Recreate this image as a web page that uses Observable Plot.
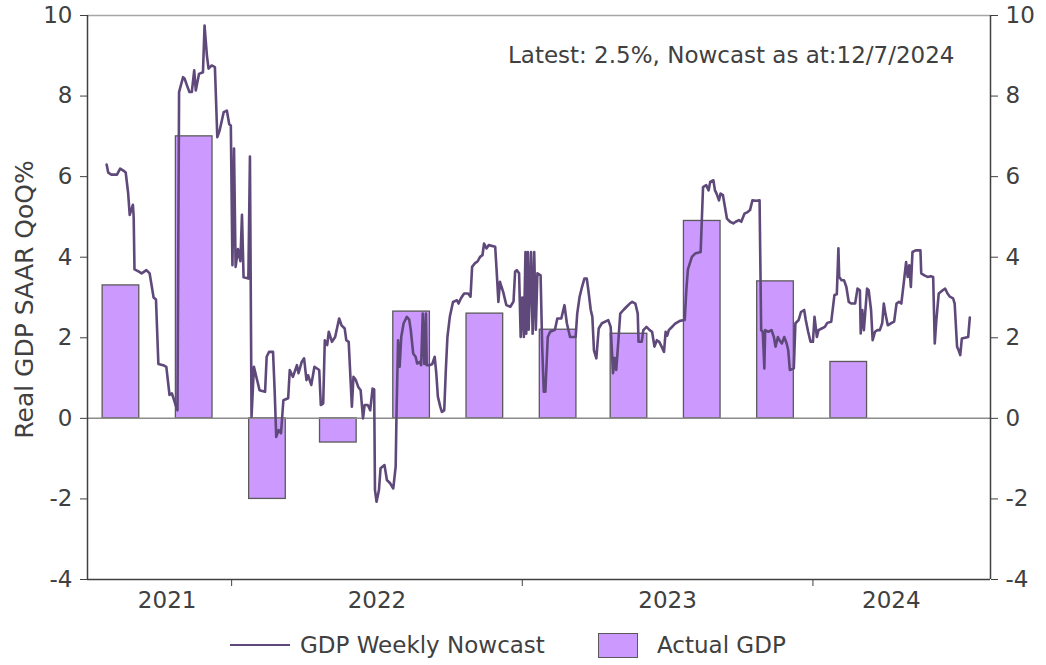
<!DOCTYPE html>
<html>
<head>
<meta charset="utf-8">
<script src="https://cdn.jsdelivr.net/npm/d3@7"></script>
<script src="https://cdn.jsdelivr.net/npm/@observablehq/plot@0.6"></script>
<style>
  html, body { margin: 0; padding: 0; background: #fff; }
  #chart { width: 1046px; font-family: "DejaVu Sans", sans-serif; color: #404040; }
  .legend { position: relative; height: 40px; font-size: 23px; }
  .legend > * { position: absolute; }
  .legend .swatch-line { left: 230px; top: 19px; width: 60px; height: 0; border-top: 2.6px solid #5F497A; }
  .legend .swatch-box { left: 598px; top: 8px; width: 40px; height: 25px; background: #CC99FF; border: 1.2px solid #595959; box-sizing: border-box; }
  .legend .label { top: 5px; line-height: 30px; white-space: nowrap; }
</style>
</head>
<body>
<div id="chart"></div>
<script>
// Quarterly actual real GDP growth (SAAR, QoQ %)
const quarters = ["2021-Q3", "2021-Q4", "2022-Q1", "2022-Q2", "2022-Q3", "2022-Q4",
                  "2023-Q1", "2023-Q2", "2023-Q3", "2023-Q4", "2024-Q1"];
const actualGdp = [3.3, 7.0, -2.0, -0.6, 2.65, 2.6, 2.2, 2.1, 4.9, 3.4, 1.4];

// Weekly GDP nowcast (SAAR, QoQ %)
const nowcastDates = [
  "2021-07-28","2021-07-30","2021-08-03","2021-08-10","2021-08-14","2021-08-18","2021-08-21","2021-08-24","2021-08-26","2021-08-30",
  "2021-08-31","2021-09-01","2021-09-06","2021-09-10","2021-09-16","2021-09-20","2021-09-25","2021-09-28","2021-10-01","2021-10-07",
  "2021-10-11","2021-10-15","2021-10-18","2021-10-22","2021-10-25","2021-10-27","2021-11-01","2021-11-03","2021-11-06","2021-11-09",
  "2021-11-12","2021-11-15","2021-11-17","2021-11-21","2021-11-26","2021-11-28","2021-12-01","2021-12-03","2021-12-07","2021-12-11",
  "2021-12-14","2021-12-17","2021-12-22","2021-12-26","2021-12-29","2021-12-31","2022-01-02","2022-01-04","2022-01-06","2022-01-09",
  "2022-01-12","2022-01-14","2022-01-16","2022-01-22","2022-01-24","2022-01-26","2022-01-29","2022-02-01","2022-02-03","2022-02-05",
  "2022-02-12","2022-02-14","2022-02-17","2022-02-22","2022-02-24","2022-02-26","2022-03-01","2022-03-04","2022-03-07","2022-03-13",
  "2022-03-15","2022-03-19","2022-03-24","2022-03-26","2022-03-30","2022-04-02","2022-04-05","2022-04-07","2022-04-11","2022-04-15",
  "2022-04-21","2022-04-23","2022-04-26","2022-04-28","2022-05-01","2022-05-03","2022-05-07","2022-05-11","2022-05-16","2022-05-19",
  "2022-05-23","2022-05-25","2022-05-28","2022-06-01","2022-06-03","2022-06-06","2022-06-09","2022-06-12","2022-06-15","2022-06-17",
  "2022-06-21","2022-06-24","2022-06-27","2022-06-29","2022-06-30","2022-07-02","2022-07-05","2022-07-07","2022-07-12","2022-07-15",
  "2022-07-19","2022-07-23","2022-07-26","2022-07-27","2022-07-29","2022-07-31","2022-08-02","2022-08-05","2022-08-09","2022-08-12",
  "2022-08-14","2022-08-17","2022-08-20","2022-08-22","2022-08-25","2022-08-27","2022-08-29","2022-08-31","2022-09-02","2022-09-03",
  "2022-09-07","2022-09-10","2022-09-13","2022-09-15","2022-09-17","2022-09-20","2022-09-22","2022-09-25","2022-09-27","2022-09-29",
  "2022-10-02","2022-10-06","2022-10-11","2022-10-13","2022-10-16","2022-10-20","2022-10-25","2022-10-28","2022-10-30","2022-11-02",
  "2022-11-06","2022-11-09","2022-11-12","2022-11-14","2022-11-17","2022-11-20","2022-11-28","2022-11-30","2022-12-02","2022-12-04",
  "2022-12-06","2022-12-08","2022-12-12","2022-12-17","2022-12-21","2022-12-23","2022-12-25","2022-12-28","2022-12-30","2023-01-01",
  "2023-01-03","2023-01-05","2023-01-06","2023-01-08","2023-01-09","2023-01-12","2023-01-14","2023-01-16","2023-01-18","2023-01-20",
  "2023-01-24","2023-01-26","2023-01-28","2023-01-30","2023-02-02","2023-02-05","2023-02-11","2023-02-14","2023-02-19","2023-02-23",
  "2023-02-26","2023-03-02","2023-03-09","2023-03-11","2023-03-14","2023-03-17","2023-03-20","2023-03-23","2023-03-25","2023-03-28",
  "2023-03-30","2023-04-01","2023-04-04","2023-04-07","2023-04-11","2023-04-19","2023-04-22","2023-04-25","2023-04-27","2023-04-29",
  "2023-05-02","2023-05-04","2023-05-08","2023-05-12","2023-05-16","2023-05-19","2023-05-23","2023-05-26","2023-05-27","2023-05-31",
  "2023-06-02","2023-06-06","2023-06-10","2023-06-13","2023-06-16","2023-06-19","2023-06-22","2023-06-25","2023-06-28","2023-06-30",
  "2023-07-02","2023-07-04","2023-07-07","2023-07-12","2023-07-18","2023-07-24","2023-07-26","2023-07-28","2023-08-02","2023-08-06",
  "2023-08-13","2023-08-16","2023-08-20","2023-08-23","2023-08-25","2023-08-29","2023-08-31","2023-09-02","2023-09-05","2023-09-07",
  "2023-09-10","2023-09-15","2023-09-19","2023-09-23","2023-09-26","2023-09-30","2023-10-03","2023-10-07","2023-10-11","2023-10-14",
  "2023-10-17","2023-10-22","2023-10-26","2023-10-28","2023-10-30","2023-11-01","2023-11-02","2023-11-06","2023-11-10","2023-11-13",
  "2023-11-15","2023-11-18","2023-11-20","2023-11-23","2023-11-26","2023-11-29","2023-12-01","2023-12-03","2023-12-08","2023-12-10",
  "2023-12-14","2023-12-17","2023-12-21","2023-12-23","2023-12-26","2023-12-29","2024-01-01","2024-01-03","2024-01-06","2024-01-08",
  "2024-01-12","2024-01-16","2024-01-19","2024-01-24","2024-01-28","2024-01-31","2024-02-02","2024-02-03","2024-02-06","2024-02-09",
  "2024-02-12","2024-02-15","2024-02-18","2024-02-23","2024-02-26","2024-02-29","2024-03-01","2024-03-03","2024-03-05","2024-03-09",
  "2024-03-11","2024-03-14","2024-03-16","2024-03-19","2024-03-22","2024-03-25","2024-03-28","2024-03-30","2024-04-01","2024-04-04",
  "2024-04-08","2024-04-12","2024-04-15","2024-04-18","2024-04-21","2024-04-24","2024-04-27","2024-04-29","2024-05-01","2024-05-03",
  "2024-05-05","2024-05-09","2024-05-15","2024-05-16","2024-05-20","2024-05-24","2024-05-28","2024-05-31","2024-06-02","2024-06-04",
  "2024-06-07","2024-06-12","2024-06-15","2024-06-18","2024-06-21","2024-06-25","2024-06-27","2024-06-30","2024-07-02","2024-07-04",
  "2024-07-06","2024-07-10","2024-07-14","2024-07-16"
];
const nowcastValues = [
  6.3, 6.1, 6.05, 6.05, 6.2, 6.15, 6.1, 5.6, 5.05, 5.3,
  5.0, 3.7, 3.65, 3.6, 3.68, 3.6, 3.0, 2.95, 1.35, 1.32,
  1.28, 0.58, 0.62, 0.37, 0.2, 8.1, 8.47, 8.43, 8.26, 8.1,
  8.1, 8.64, 8.14, 8.55, 8.59, 9.75, 9.0, 8.68, 8.76, 8.72,
  6.98, 7.15, 7.6, 7.64, 7.3, 7.27, 3.8, 6.7, 3.76, 4.2,
  3.9, 5.05, 3.5, 3.47, 6.5, 0.04, 1.28, 1.03, 0.87, 0.7,
  0.66, 1.53, 1.65, 1.65, 0.7, -0.46, -0.29, -0.37, 0.45, 0.5,
  1.2, 1.03, 1.32, 1.12, 1.4, 1.49, 0.95, 1.07, 0.83, 1.28,
  1.2, 0.33, 0.37, 1.94, 1.82, 2.15, 1.9, 2.02, 2.48, 2.31,
  2.23, 1.94, 1.9, 0.29, 1.03, 0.95, 0.78, 0.7, 0.0, 0.33,
  0.33, 0.2, 0.74, 0.72, -1.78, -2.07, -1.78, -1.24, -1.16, -1.53,
  -1.61, -1.74, -1.2, 0.04, 1.94, 1.28, 2.02, 2.36, 2.52, 2.45,
  2.19, 1.61, 1.53, 1.36, 1.4, 1.32, 2.6, 1.35, 2.6, 1.32,
  1.32, 1.35, 1.53, 1.12, 0.54, 0.29, 0.16, 0.2, 1.2, 2.02,
  2.52, 2.89, 2.93, 2.85, 2.98, 3.1, 3.1, 3.02, 3.76, 3.84,
  3.9, 4.01, 4.05, 4.34, 4.22, 4.3, 4.26, 3.6, 2.89, 3.39,
  3.26, 3.14, 2.81, 2.77, 2.9, 3.64, 3.68, 3.6, 2.02, 3.0,
  2.02, 4.13, 2.1, 4.13, 2.2, 4.13, 2.1, 4.13, 2.2, 3.6,
  3.55, 1.78, 0.66, 0.66, 2.02, 2.15, 2.2, 2.48, 2.48, 2.81,
  2.36, 2.02, 2.02, 2.6, 3.02, 3.26, 3.47, 3.47, 3.18, 2.69,
  2.52, 1.69, 1.49, 2.23, 2.36, 2.44, 2.27, 1.12, 1.5, 1.2,
  2.02, 2.6, 2.69, 2.77, 2.85, 2.89, 2.85, 2.6, 1.9, 1.9,
  2.19, 2.27, 2.19, 2.15, 1.78, 1.94, 1.9, 1.78, 1.65, 2.15,
  2.05, 2.19, 2.25, 2.35, 2.42, 2.44, 3.18, 3.7, 4.01, 4.09,
  4.13, 5.74, 5.79, 5.66, 5.87, 5.91, 5.66, 5.58, 5.41, 5.58,
  5.54, 4.96, 4.88, 4.84, 4.88, 4.92, 4.88, 5.08, 5.12, 5.17,
  5.41, 5.4, 5.41, 2.19, 2.15, 1.24, 2.19, 2.15, 2.19, 2.02,
  1.78, 2.02, 1.94, 1.86, 2.02, 1.86, 1.69, 1.2, 1.24, 2.36,
  2.44, 2.64, 2.69, 2.44, 2.15, 1.9, 1.9, 2.52, 2.02, 2.19,
  2.23, 2.27, 2.37, 2.4, 3.06, 3.08, 4.22, 3.51, 3.43, 3.43,
  3.26, 2.89, 2.85, 2.85, 3.22, 3.18, 2.11, 2.69, 2.19, 3.22,
  3.18, 2.69, 1.94, 2.15, 2.19, 2.19, 2.36, 2.85, 2.6, 2.31,
  2.36, 2.4, 2.85, 2.89, 2.85, 3.35, 3.88, 3.51, 3.8, 3.26,
  4.13, 4.17, 4.17, 3.6, 3.55, 3.51, 3.53, 3.51, 1.86, 2.44,
  3.1, 3.18, 3.22, 3.1, 3.02, 2.98, 2.85, 1.78, 1.69, 1.57,
  1.98, 2.0, 2.02, 2.5
];
const nowcastAsAt = "12/7/2024";

const yTicks = [-4, -2, 0, 2, 4, 6, 8, 10];
const yearLabels = ["2021", "2022", "2023", "2024"];
const yAxisTitle = "Real GDP SAAR QoQ%";
const seriesNames = ["GDP Weekly Nowcast", "Actual GDP"];

// ---- derived tables ----
const DAY = 864e5;
const nowcast = nowcastDates.map((d, i) => ({date: new Date(d), value: nowcastValues[i]}));

// bars are centred mid-quarter (15th of the middle month)
const bars = quarters.map((q, i) => {
  const [y, qq] = q.split("-Q").map(Number);
  const mid = Date.UTC(y, (qq - 1) * 3 + 1, 15);
  return {x1: new Date(mid - 23 * DAY), x2: new Date(mid + 23 * DAY), value: actualGdp[i]};
});

const xDomain = [new Date("2021-07-04"), new Date("2024-08-11")];
const dataStart = Math.min(+bars[0].x1, +nowcast[0].date);
const dataEnd = +nowcast[nowcast.length - 1].date;
const yearStarts = yearLabels.slice(1).map(y => new Date(Date.UTC(+y, 0, 1)));
// each year label sits in the middle of that year's stretch of data
const years = yearLabels.map(y => {
  const a = Math.max(Date.UTC(+y, 0, 1), dataStart);
  const b = Math.min(Date.UTC(+y + 1, 0, 1), dataEnd);
  return {label: y, date: new Date((a + b) / 2)};
});

const latest = nowcastValues[nowcastValues.length - 1];
const latestText = `Latest: ${latest.toFixed(1)}%, Nowcast as at:${nowcastAsAt}`;

const FONT = `"DejaVu Sans", sans-serif`;
const AXIS = "#404040";
const LINE = "#5F497A";

const chart = Plot.plot({
  width: 1046,
  height: 625,
  marginTop: 15,
  marginBottom: 46,
  marginLeft: 87,
  marginRight: 56,
  style: {fontFamily: FONT, fontSize: "23px", color: AXIS, background: "#fff", overflow: "visible"},
  x: {type: "utc", domain: xDomain},
  y: {type: "linear", domain: [-4, 10]},
  marks: [
    Plot.ruleY([10], {stroke: "#a6a6a6", strokeWidth: 1.5}),
    Plot.rectY(bars, {x1: "x1", x2: "x2", y1: 0, y2: "value", fill: "#CC99FF", stroke: "#5a5a5a", strokeWidth: 1.3}),
    Plot.ruleY([0], {stroke: "#8c8c8c", strokeWidth: 1.5}),
    Plot.line(nowcast, {x: "date", y: "value", stroke: LINE, strokeWidth: 2.6, strokeLinejoin: "round"}),
    // axes
    Plot.ruleX([xDomain[0]], {stroke: AXIS, strokeWidth: 1.5}),
    Plot.ruleX([xDomain[1]], {stroke: AXIS, strokeWidth: 1.5}),
    Plot.ruleY([-4], {stroke: AXIS, strokeWidth: 1.5}),
    Plot.axisY(yTicks, {anchor: "left", tickSize: 7, tickPadding: 8, tickFormat: d => String(d), label: null, stroke: AXIS}),
    Plot.axisY(yTicks, {anchor: "right", tickSize: 7, tickPadding: 8, tickFormat: d => String(d), label: null, stroke: AXIS}),
    Plot.axisX(yearStarts, {tickSize: 7, tickFormat: () => "", label: null, stroke: AXIS}),
    Plot.text(years, {x: "date", frameAnchor: "bottom", text: "label", dy: 28, fill: AXIS}),
    Plot.text([yAxisTitle], {frameAnchor: "left", dx: -63, dy: 2, rotate: -90, textAnchor: "middle", fontSize: 25, fill: AXIS}),
    Plot.text([latestText], {frameAnchor: "top-right", dx: -36, dy: 31, textAnchor: "end", fill: AXIS})
  ]
});

const root = document.getElementById("chart");
root.appendChild(chart);

const legend = document.createElement("div");
legend.className = "legend";
legend.innerHTML = `
  <span class="swatch-line"></span><span class="label" style="left:300px">${seriesNames[0]}</span>
  <span class="swatch-box"></span><span class="label" style="left:657px">${seriesNames[1]}</span>`;
root.appendChild(legend);
</script>
</body>
</html>
